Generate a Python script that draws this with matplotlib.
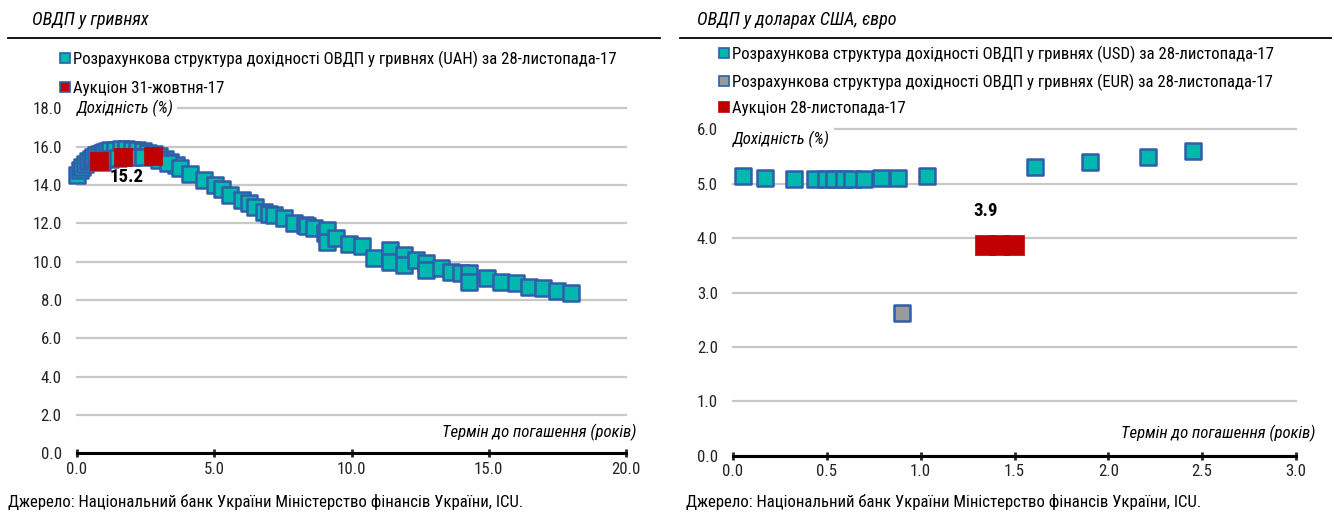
import matplotlib
matplotlib.use("Agg")
import matplotlib.pyplot as plt
from matplotlib.lines import Line2D

plt.rcParams["font.family"] = ["Roboto Condensed", "DejaVu Sans"]

TEAL = "#00B8AE"
EDGE = "#2F5EAA"
RED = "#C00000"
GREY = "#9A9A9A"
GRID = "#C8C8C8"

# ---- left panel: UAH bonds (term in years, yield %)
uah_x = [0.0, 0.1, 0.2, 0.3, 0.4, 0.5, 0.6, 0.7, 0.8, 0.9, 1.0, 1.1, 1.2, 1.4, 1.6,
         1.8, 2.0, 2.2, 2.4, 2.6, 2.8, 3.0, 3.2, 3.4, 3.6,
         0.9, 1.2, 1.5, 2.0, 2.4, 3.0, 3.3,
         3.76, 4.12, 4.61, 5.04, 5.28, 5.58, 6.0, 6.25, 6.5, 6.8, 7.0, 7.17, 7.53,
         7.9, 8.32, 8.38, 8.62, 9.05, 9.11, 9.11, 9.45, 9.9, 10.39, 10.81, 11.42,
         11.42, 11.91, 11.91, 12.34, 12.7, 12.7, 13.25, 13.61, 13.98, 14.28, 14.28,
         14.95, 15.44, 15.99, 16.47, 16.96, 17.48, 17.99]
uah_y = [14.5, 14.75, 14.95, 15.1, 15.25, 15.37, 15.47, 15.55, 15.62, 15.68, 15.73, 15.77, 15.8, 15.83, 15.85,
         15.85, 15.83, 15.8, 15.75, 15.68, 15.6, 15.5, 15.35, 15.2, 15.02,
         15.2, 15.35, 15.42, 15.45, 15.45, 15.3, 15.15,
         14.87, 14.57, 14.26, 14.0, 13.77, 13.47, 13.2, 13.04, 12.85, 12.6, 12.5, 12.43, 12.26,
         12.0, 11.91, 11.86, 11.74, 11.48, 11.65, 11.04, 11.22, 10.92, 10.81, 10.17, 10.6,
         10.0, 10.34, 9.82, 10.08, 9.91, 9.56, 9.65, 9.47, 9.39, 9.39, 8.95,
         9.13, 8.95, 8.87, 8.69, 8.61, 8.48, 8.38]
auc_uah_x = [0.81, 1.69, 2.78]
auc_uah_y = [15.24, 15.46, 15.50]

# ---- right panel: USD / EUR bonds
usd_x = [0.055, 0.171, 0.325, 0.437, 0.496, 0.54, 0.592, 0.636, 0.70, 0.788, 0.878, 1.036,
         1.61, 1.90, 2.21, 2.45]
usd_y = [5.13, 5.10, 5.09, 5.08, 5.08, 5.08, 5.085, 5.085, 5.09, 5.10, 5.11, 5.14,
         5.31, 5.40, 5.49, 5.59]
eur_x = [0.90]
eur_y = [2.63]
auc_usd_x = [1.345, 1.42, 1.495]
auc_usd_y = [3.88, 3.88, 3.88]

lbl_uah = "Розрахункова структура дохідності ОВДП у гривнях (UAH) за 28-листопада-17"
lbl_auc1 = "Аукціон 31-жовтня-17"
lbl_usd = "Розрахункова структура дохідності ОВДП у гривнях (USD) за 28-листопада-17"
lbl_eur = "Розрахункова структура дохідності ОВДП у гривнях (EUR) за 28-листопада-17"
lbl_auc2 = "Аукціон 28-листопада-17"
source = "Джерело: Національний банк України Міністерство фінансів України, ICU."
ylab = "Дохідність (%)"
xlab = "Термін до погашення (років)"

FS = 12.1


def style_axes(ax, ymax, ystep, xmax, xstep):
    ax.set_xlim(0, xmax)
    ax.set_ylim(0, ymax)
    yt = [i * ystep for i in range(int(round(ymax / ystep)) + 1)]
    xt = [i * xstep for i in range(int(round(xmax / xstep)) + 1)]
    ax.set_yticks(yt)
    ax.set_xticks(xt)
    ax.set_yticklabels([f"{v:.1f}" for v in yt])
    ax.set_xticklabels([f"{v:.1f}" for v in xt])
    for s in ["top", "right", "left"]:
        ax.spines[s].set_visible(False)
    ax.spines["bottom"].set_linewidth(2.2)
    ax.spines["bottom"].set_color("black")
    ax.tick_params(axis="y", length=0, pad=11, labelsize=FS, colors="#222222")
    ax.tick_params(axis="x", direction="inout", length=6, width=2, pad=3,
                   labelsize=FS, colors="#222222")
    ax.yaxis.grid(True, color=GRID, linewidth=1.6)
    for gl in ax.get_ygridlines():
        gl.set_clip_on(False)
    ax.set_axisbelow(True)


fig = plt.figure(figsize=(13.34, 5.19), dpi=100)

# ---------- left
ax1 = fig.add_axes([0.0577, 0.1266, 0.4116, 0.6650])
style_axes(ax1, 18, 2, 20, 5)
ax1.scatter(uah_x, uah_y, marker="s", s=125, c=TEAL, edgecolors=EDGE, linewidths=1.8,
            zorder=3, clip_on=False)
ax1.scatter(auc_uah_x, auc_uah_y, marker="s", s=150, c=RED, edgecolors=RED, linewidths=0.5,
            zorder=4, clip_on=False)
ax1.text(1.8, 14.4, f"{auc_uah_y[0]:.1f}", fontsize=FS + 1.5, fontweight="bold",
         ha="center", va="center", zorder=5)
ax1.text(0.0, 18, ylab, fontsize=FS, style="italic", ha="left", va="center", zorder=5,
         bbox=dict(facecolor="white", edgecolor="none", pad=2))
ax1.text(1.018, 0.06, xlab, transform=ax1.transAxes, fontsize=FS, style="italic",
         ha="right", va="center")

h1 = [Line2D([], [], marker="s", ls="none", ms=7, mfc=TEAL, mec=EDGE, mew=1.2),
      Line2D([], [], marker="s", ls="none", ms=7, mfc=RED, mec=EDGE, mew=1.2)]
fig.legend(h1, [lbl_uah, lbl_auc1], loc="upper left", bbox_to_anchor=(0.045, 0.903),
           frameon=False, fontsize=FS, handlelength=0.6, handletextpad=0.15,
           labelspacing=0.8, borderpad=0, borderaxespad=0)

# ---------- right
ax2 = fig.add_axes([0.5495, 0.1214, 0.4220, 0.6300])
style_axes(ax2, 6, 1, 3, 0.5)
ax2.scatter(usd_x, usd_y, marker="s", s=118, c=TEAL, edgecolors=EDGE, linewidths=1.8,
            zorder=3, clip_on=False)
ax2.scatter(eur_x, eur_y, marker="s", s=118, c=GREY, edgecolors=EDGE, linewidths=1.8,
            zorder=3, clip_on=False)
ax2.scatter(auc_usd_x, auc_usd_y, marker="s", s=215, c=RED, edgecolors=RED, linewidths=0.5,
            zorder=4, clip_on=False)
ax2.annotate(f"{auc_usd_y[0]:.1f}", (auc_usd_x[0], auc_usd_y[0]), xytext=(0, 24),
             textcoords="offset points", fontsize=FS + 1.5, fontweight="bold",
             ha="center", va="center", zorder=5)
ax2.text(0.0, 5.97, ylab, fontsize=FS, style="italic", ha="left", va="top", zorder=5,
         bbox=dict(facecolor="white", edgecolor="none", pad=3))
ax2.text(1.034, 0.07, xlab, transform=ax2.transAxes, fontsize=FS, style="italic",
         ha="right", va="center")

h2 = [Line2D([], [], marker="s", ls="none", ms=7, mfc=TEAL, mec=EDGE, mew=1.2),
      Line2D([], [], marker="s", ls="none", ms=7, mfc=GREY, mec=EDGE, mew=1.2),
      Line2D([], [], marker="s", ls="none", ms=7, mfc=RED, mec=RED, mew=1.2)]
fig.legend(h2, [lbl_usd, lbl_eur, lbl_auc2], loc="upper left", bbox_to_anchor=(0.539, 0.912),
           frameon=False, fontsize=FS, handlelength=0.6, handletextpad=0.15,
           labelspacing=0.62, borderpad=0, borderaxespad=0)

# ---------- titles, rules, source
fig.text(0.024, 0.962, "ОВДП у гривнях", fontsize=FS + 1, style="italic", va="center")
fig.text(0.5225, 0.962, "ОВДП у доларах США, євро", fontsize=FS + 1, style="italic", va="center")
fig.add_artist(Line2D([0.006, 0.495], [0.926, 0.926], color="black", lw=1.3))
fig.add_artist(Line2D([0.51, 0.998], [0.926, 0.926], color="black", lw=1.3))
fig.text(0.006, 0.033, source, fontsize=FS, va="center")
fig.text(0.514, 0.033, source, fontsize=FS, va="center")

fig.savefig("out.png", dpi=100)
